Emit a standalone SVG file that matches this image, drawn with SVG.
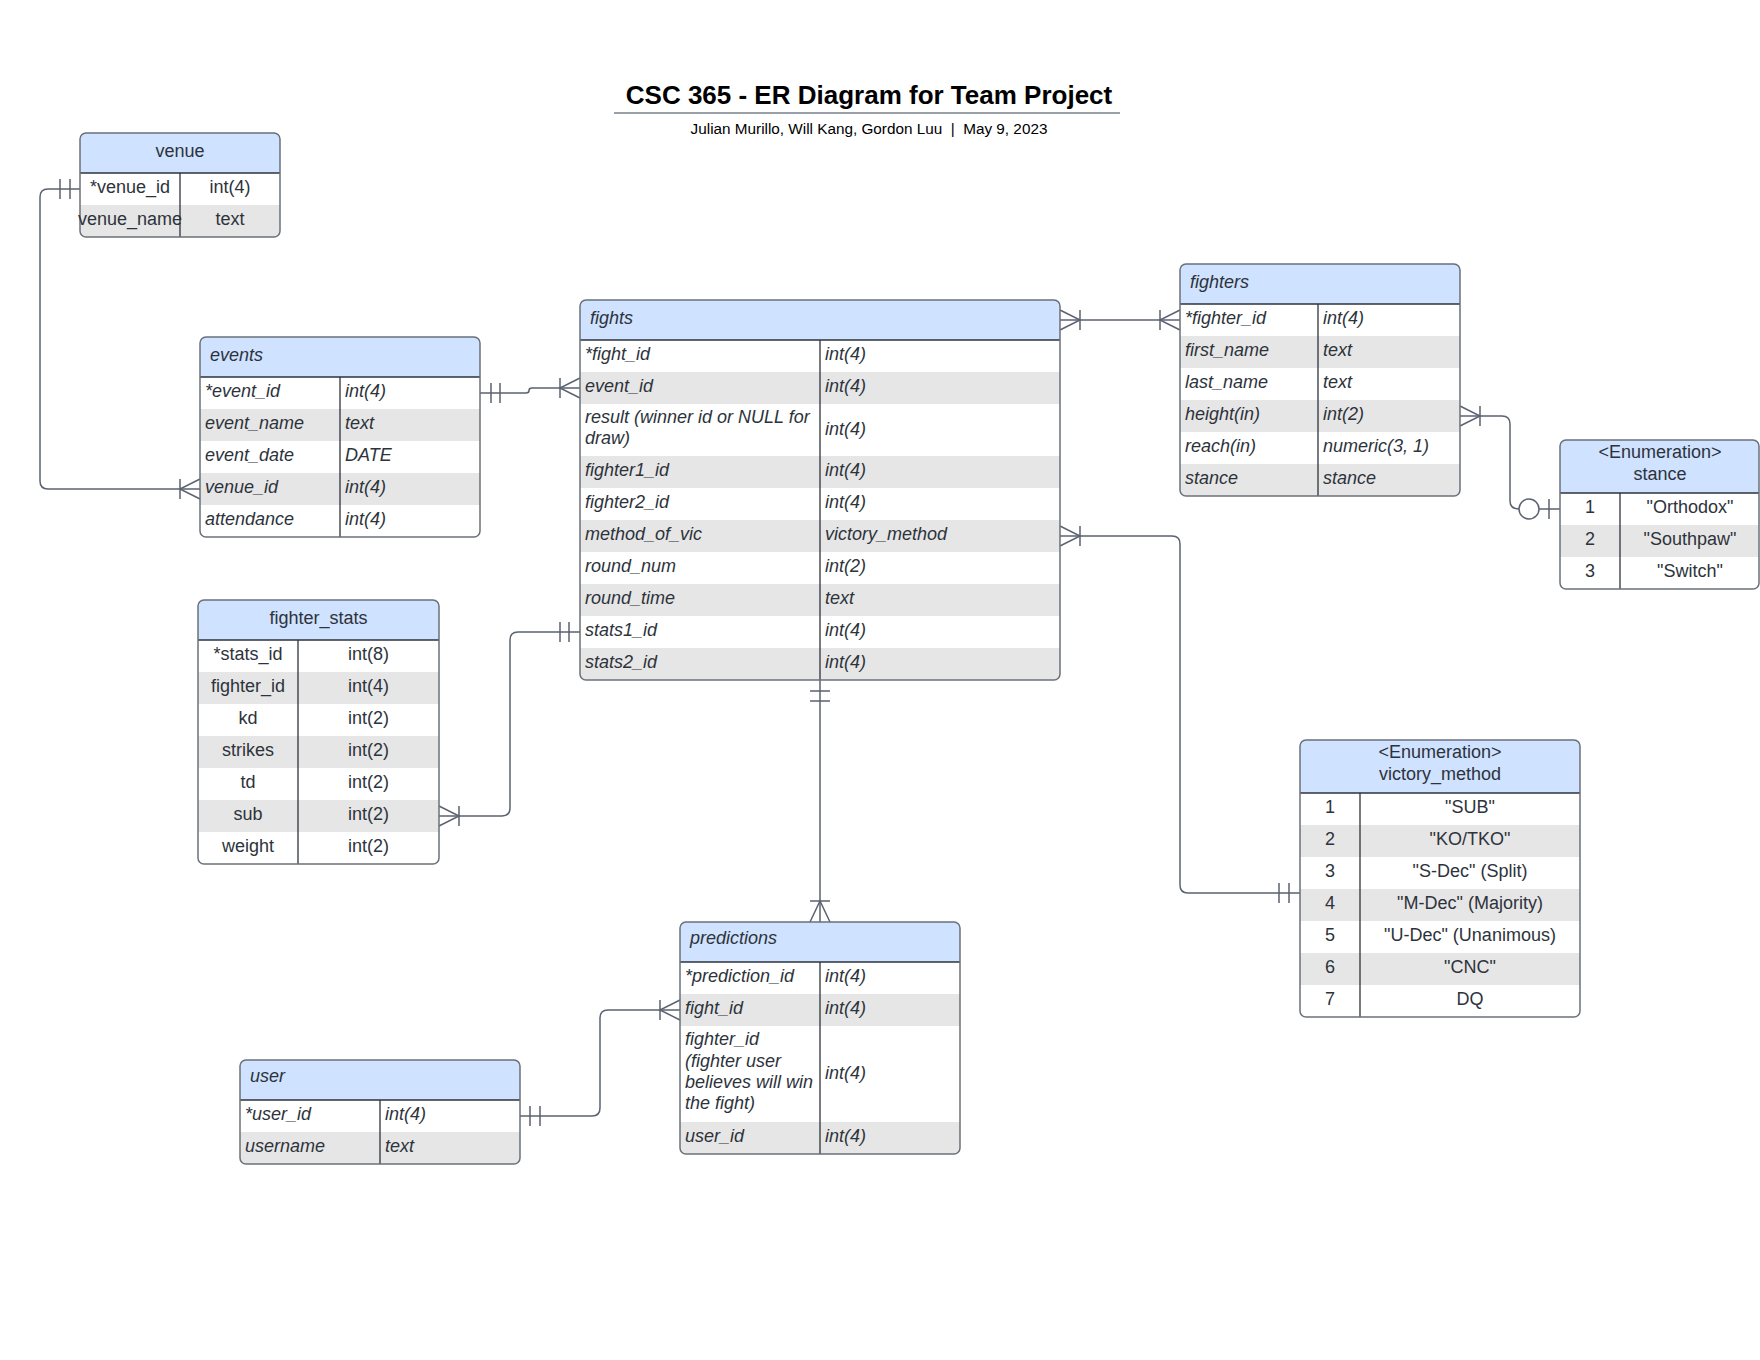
<svg xmlns="http://www.w3.org/2000/svg" width="1760" height="1360" viewBox="0 0 1760 1360">
<style>
.t{font-family:"Liberation Sans",Arial,sans-serif;font-size:18px;fill:#2d333b;transform:translateY(-2px)}
.i{font-style:italic}
.c{text-anchor:middle}
.bg{fill:#ffffff}
.hd{fill:#cfe2ff}
.alt{fill:#e6e6e6}
.border{fill:none;stroke:#6b7079;stroke-width:1.5}
.sep{stroke:#2d333b;stroke-width:1.3;fill:none}
.cn{fill:none;stroke:#5b6270;stroke-width:1.5}
.title{font-family:"Liberation Sans",Arial,sans-serif;font-size:26px;font-weight:bold;fill:#000;text-anchor:middle}
.sub{font-family:"Liberation Sans",Arial,sans-serif;font-size:15.3px;fill:#000;text-anchor:middle;white-space:pre}
</style>
<defs>
<clipPath id="c-venue"><rect x="80" y="133" width="200" height="104" rx="6"/></clipPath>
<clipPath id="c-events"><rect x="200" y="337" width="280" height="200" rx="6"/></clipPath>
<clipPath id="c-fights"><rect x="580" y="300" width="480" height="380" rx="6"/></clipPath>
<clipPath id="c-fighters"><rect x="1180" y="264" width="280" height="232" rx="6"/></clipPath>
<clipPath id="c-stance"><rect x="1560" y="440" width="199" height="149" rx="6"/></clipPath>
<clipPath id="c-stats"><rect x="198" y="600" width="241" height="264" rx="6"/></clipPath>
<clipPath id="c-victory"><rect x="1300" y="740" width="280" height="277" rx="6"/></clipPath>
<clipPath id="c-pred"><rect x="680" y="922" width="280" height="232" rx="6"/></clipPath>
<clipPath id="c-user"><rect x="240" y="1060" width="280" height="104" rx="6"/></clipPath>
</defs>
<rect width="1760" height="1360" fill="#ffffff"/>

<g id="title">
<text class="title" x="869" y="104">CSC 365 - ER Diagram for Team Project</text>
<line x1="614" y1="113" x2="1120" y2="113" stroke="#9aa0a8" stroke-width="2"/>
<text class="sub" x="869" y="134" xml:space="preserve">Julian Murillo, Will Kang, Gordon Luu  |  May 9, 2023</text>
</g>

<g id="connectors">
<path class="cn" d="M80,189 H48 Q40,189 40,197 V481 Q40,489 48,489 H200"/>
<path class="cn" d="M60,179 V199 M70,179 V199"/>
<path class="cn" d="M200,479 L180,489 L200,499 M180,479 V499"/>

<path class="cn" d="M480,393 H526 Q529,393 529,390.5 Q529,388 532,388 H580"/>
<path class="cn" d="M491,383 V403 M500,383 V403"/>
<path class="cn" d="M580,378 L560,388 L580,398 M560,378 V398"/>

<path class="cn" d="M1060,320 H1180"/>
<path class="cn" d="M1060,310 L1080,320 L1060,330 M1080,310 V330"/>
<path class="cn" d="M1180,310 L1160,320 L1180,330 M1160,310 V330"/>

<path class="cn" d="M1460,416 H1502 Q1510,416 1510,424 V501 Q1510,509 1519,509"/>
<circle class="cn" cx="1529" cy="509" r="10" fill="#ffffff"/>
<path class="cn" d="M1539,509 H1560 M1549,499 V519"/>
<path class="cn" d="M1460,406 L1480,416 L1460,426 M1480,406 V426"/>

<path class="cn" d="M1060,536 H1172 Q1180,536 1180,544 V885 Q1180,893 1188,893 H1300"/>
<path class="cn" d="M1060,526 L1080,536 L1060,546 M1080,526 V546"/>
<path class="cn" d="M1279,883 V903 M1289,883 V903"/>

<path class="cn" d="M580,632 H518 Q510,632 510,640 V808 Q510,816 502,816 H439"/>
<path class="cn" d="M560,622 V642 M569,622 V642"/>
<path class="cn" d="M439,806 L459,816 L439,826 M459,806 V826"/>

<path class="cn" d="M820,680 V922"/>
<path class="cn" d="M810,691 H830 M810,701 H830"/>
<path class="cn" d="M810,922 L820,901 L830,922 M810,901 H830"/>

<path class="cn" d="M520,1116 H592 Q600,1116 600,1108 V1018 Q600,1010 608,1010 H680"/>
<path class="cn" d="M530,1106 V1126 M540,1106 V1126"/>
<path class="cn" d="M680,1000 L660,1010 L680,1020 M660,1000 V1020"/>
</g>

<g id="venue">
<g clip-path="url(#c-venue)">
<rect class="bg" x="80" y="133" width="200" height="104"/>
<rect class="hd" x="80" y="133" width="200" height="40"/>
<rect class="alt" x="80" y="205" width="200" height="32"/>
</g>
<line class="sep" x1="80" y1="173" x2="280" y2="173"/>
<line class="sep" x1="180" y1="173" x2="180" y2="237"/>
<rect class="border" x="80" y="133" width="200" height="104" rx="6"/>
<text class="t c" x="180" y="159">venue</text>
<text class="t c" x="130" y="195">*venue_id</text>
<text class="t c" x="230" y="195">int(4)</text>
<text class="t c" x="130" y="227">venue_name</text>
<text class="t c" x="230" y="227">text</text>
</g>

<g id="events">
<g clip-path="url(#c-events)">
<rect class="bg" x="200" y="337" width="280" height="200"/>
<rect class="hd" x="200" y="337" width="280" height="40"/>
<rect class="alt" x="200" y="409" width="280" height="32"/>
<rect class="alt" x="200" y="473" width="280" height="32"/>
</g>
<line class="sep" x1="200" y1="377" x2="480" y2="377"/>
<line class="sep" x1="340" y1="377" x2="340" y2="537"/>
<rect class="border" x="200" y="337" width="280" height="200" rx="6"/>
<text class="t i" x="210" y="363">events</text>
<text class="t i" x="205" y="399">*event_id</text><text class="t i" x="345" y="399">int(4)</text>
<text class="t i" x="205" y="431">event_name</text><text class="t i" x="345" y="431">text</text>
<text class="t i" x="205" y="463">event_date</text><text class="t i" x="345" y="463">DATE</text>
<text class="t i" x="205" y="495">venue_id</text><text class="t i" x="345" y="495">int(4)</text>
<text class="t i" x="205" y="527">attendance</text><text class="t i" x="345" y="527">int(4)</text>
</g>

<g id="fights">
<g clip-path="url(#c-fights)">
<rect class="bg" x="580" y="300" width="480" height="380"/>
<rect class="hd" x="580" y="300" width="480" height="40"/>
<rect class="alt" x="580" y="372" width="480" height="32"/>
<rect class="alt" x="580" y="456" width="480" height="32"/>
<rect class="alt" x="580" y="520" width="480" height="32"/>
<rect class="alt" x="580" y="584" width="480" height="32"/>
<rect class="alt" x="580" y="648" width="480" height="32"/>
</g>
<line class="sep" x1="580" y1="340" x2="1060" y2="340"/>
<line class="sep" x1="820" y1="340" x2="820" y2="680"/>
<rect class="border" x="580" y="300" width="480" height="380" rx="6"/>
<text class="t i" x="590" y="326">fights</text>
<text class="t i" x="585" y="362">*fight_id</text><text class="t i" x="825" y="362">int(4)</text>
<text class="t i" x="585" y="394">event_id</text><text class="t i" x="825" y="394">int(4)</text>
<text class="t i" x="585" y="425">result (winner id or NULL for</text>
<text class="t i" x="585" y="446">draw)</text><text class="t i" x="825" y="437">int(4)</text>
<text class="t i" x="585" y="478">fighter1_id</text><text class="t i" x="825" y="478">int(4)</text>
<text class="t i" x="585" y="510">fighter2_id</text><text class="t i" x="825" y="510">int(4)</text>
<text class="t i" x="585" y="542">method_of_vic</text><text class="t i" x="825" y="542">victory_method</text>
<text class="t i" x="585" y="574">round_num</text><text class="t i" x="825" y="574">int(2)</text>
<text class="t i" x="585" y="606">round_time</text><text class="t i" x="825" y="606">text</text>
<text class="t i" x="585" y="638">stats1_id</text><text class="t i" x="825" y="638">int(4)</text>
<text class="t i" x="585" y="670">stats2_id</text><text class="t i" x="825" y="670">int(4)</text>
</g>

<g id="fighters">
<g clip-path="url(#c-fighters)">
<rect class="bg" x="1180" y="264" width="280" height="232"/>
<rect class="hd" x="1180" y="264" width="280" height="40"/>
<rect class="alt" x="1180" y="336" width="280" height="32"/>
<rect class="alt" x="1180" y="400" width="280" height="32"/>
<rect class="alt" x="1180" y="464" width="280" height="32"/>
</g>
<line class="sep" x1="1180" y1="304" x2="1460" y2="304"/>
<line class="sep" x1="1318" y1="304" x2="1318" y2="496"/>
<rect class="border" x="1180" y="264" width="280" height="232" rx="6"/>
<text class="t i" x="1190" y="290">fighters</text>
<text class="t i" x="1185" y="326">*fighter_id</text><text class="t i" x="1323" y="326">int(4)</text>
<text class="t i" x="1185" y="358">first_name</text><text class="t i" x="1323" y="358">text</text>
<text class="t i" x="1185" y="390">last_name</text><text class="t i" x="1323" y="390">text</text>
<text class="t i" x="1185" y="422">height(in)</text><text class="t i" x="1323" y="422">int(2)</text>
<text class="t i" x="1185" y="454">reach(in)</text><text class="t i" x="1323" y="454">numeric(3, 1)</text>
<text class="t i" x="1185" y="486">stance</text><text class="t i" x="1323" y="486">stance</text>
</g>

<g id="stance">
<g clip-path="url(#c-stance)">
<rect class="bg" x="1560" y="440" width="199" height="149"/>
<rect class="hd" x="1560" y="440" width="199" height="53"/>
<rect class="alt" x="1560" y="525" width="199" height="32"/>
</g>
<line class="sep" x1="1560" y1="493" x2="1759" y2="493"/>
<line class="sep" x1="1620" y1="493" x2="1620" y2="589"/>
<rect class="border" x="1560" y="440" width="199" height="149" rx="6"/>
<text class="t c" x="1660" y="460">&lt;Enumeration&gt;</text>
<text class="t c" x="1660" y="482">stance</text>
<text class="t c" x="1590" y="515">1</text><text class="t c" x="1690" y="515">"Orthodox"</text>
<text class="t c" x="1590" y="547">2</text><text class="t c" x="1690" y="547">"Southpaw"</text>
<text class="t c" x="1590" y="579">3</text><text class="t c" x="1690" y="579">"Switch"</text>
</g>

<g id="fighter_stats">
<g clip-path="url(#c-stats)">
<rect class="bg" x="198" y="600" width="241" height="264"/>
<rect class="hd" x="198" y="600" width="241" height="40"/>
<rect class="alt" x="198" y="672" width="241" height="32"/>
<rect class="alt" x="198" y="736" width="241" height="32"/>
<rect class="alt" x="198" y="800" width="241" height="32"/>
</g>
<line class="sep" x1="198" y1="640" x2="439" y2="640"/>
<line class="sep" x1="298" y1="640" x2="298" y2="864"/>
<rect class="border" x="198" y="600" width="241" height="264" rx="6"/>
<text class="t c" x="318.5" y="626">fighter_stats</text>
<text class="t c" x="248" y="662">*stats_id</text><text class="t c" x="368.5" y="662">int(8)</text>
<text class="t c" x="248" y="694">fighter_id</text><text class="t c" x="368.5" y="694">int(4)</text>
<text class="t c" x="248" y="726">kd</text><text class="t c" x="368.5" y="726">int(2)</text>
<text class="t c" x="248" y="758">strikes</text><text class="t c" x="368.5" y="758">int(2)</text>
<text class="t c" x="248" y="790">td</text><text class="t c" x="368.5" y="790">int(2)</text>
<text class="t c" x="248" y="822">sub</text><text class="t c" x="368.5" y="822">int(2)</text>
<text class="t c" x="248" y="854">weight</text><text class="t c" x="368.5" y="854">int(2)</text>
</g>

<g id="victory_method">
<g clip-path="url(#c-victory)">
<rect class="bg" x="1300" y="740" width="280" height="277"/>
<rect class="hd" x="1300" y="740" width="280" height="53"/>
<rect class="alt" x="1300" y="825" width="280" height="32"/>
<rect class="alt" x="1300" y="889" width="280" height="32"/>
<rect class="alt" x="1300" y="953" width="280" height="32"/>
</g>
<line class="sep" x1="1300" y1="793" x2="1580" y2="793"/>
<line class="sep" x1="1360" y1="793" x2="1360" y2="1017"/>
<rect class="border" x="1300" y="740" width="280" height="277" rx="6"/>
<text class="t c" x="1440" y="760">&lt;Enumeration&gt;</text>
<text class="t c" x="1440" y="782">victory_method</text>
<text class="t c" x="1330" y="815">1</text><text class="t c" x="1470" y="815">"SUB"</text>
<text class="t c" x="1330" y="847">2</text><text class="t c" x="1470" y="847">"KO/TKO"</text>
<text class="t c" x="1330" y="879">3</text><text class="t c" x="1470" y="879">"S-Dec" (Split)</text>
<text class="t c" x="1330" y="911">4</text><text class="t c" x="1470" y="911">"M-Dec" (Majority)</text>
<text class="t c" x="1330" y="943">5</text><text class="t c" x="1470" y="943">"U-Dec" (Unanimous)</text>
<text class="t c" x="1330" y="975">6</text><text class="t c" x="1470" y="975">"CNC"</text>
<text class="t c" x="1330" y="1007">7</text><text class="t c" x="1470" y="1007">DQ</text>
</g>

<g id="predictions">
<g clip-path="url(#c-pred)">
<rect class="bg" x="680" y="922" width="280" height="232"/>
<rect class="hd" x="680" y="922" width="280" height="40"/>
<rect class="alt" x="680" y="994" width="280" height="32"/>
<rect class="alt" x="680" y="1122" width="280" height="32"/>
</g>
<line class="sep" x1="680" y1="962" x2="960" y2="962"/>
<line class="sep" x1="820" y1="962" x2="820" y2="1154"/>
<rect class="border" x="680" y="922" width="280" height="232" rx="6"/>
<text class="t i" x="690" y="946">predictions</text>
<text class="t i" x="685" y="984">*prediction_id</text><text class="t i" x="825" y="984">int(4)</text>
<text class="t i" x="685" y="1016">fight_id</text><text class="t i" x="825" y="1016">int(4)</text>
<text class="t i" x="685" y="1047">fighter_id</text>
<text class="t i" x="685" y="1069">(fighter user</text>
<text class="t i" x="685" y="1090">believes will win</text>
<text class="t i" x="685" y="1111">the fight)</text>
<text class="t i" x="825" y="1081">int(4)</text>
<text class="t i" x="685" y="1144">user_id</text><text class="t i" x="825" y="1144">int(4)</text>
</g>

<g id="user">
<g clip-path="url(#c-user)">
<rect class="bg" x="240" y="1060" width="280" height="104"/>
<rect class="hd" x="240" y="1060" width="280" height="40"/>
<rect class="alt" x="240" y="1132" width="280" height="32"/>
</g>
<line class="sep" x1="240" y1="1100" x2="520" y2="1100"/>
<line class="sep" x1="380" y1="1100" x2="380" y2="1164"/>
<rect class="border" x="240" y="1060" width="280" height="104" rx="6"/>
<text class="t i" x="250" y="1084">user</text>
<text class="t i" x="245" y="1122">*user_id</text><text class="t i" x="385" y="1122">int(4)</text>
<text class="t i" x="245" y="1154">username</text><text class="t i" x="385" y="1154">text</text>
</g>
</svg>
